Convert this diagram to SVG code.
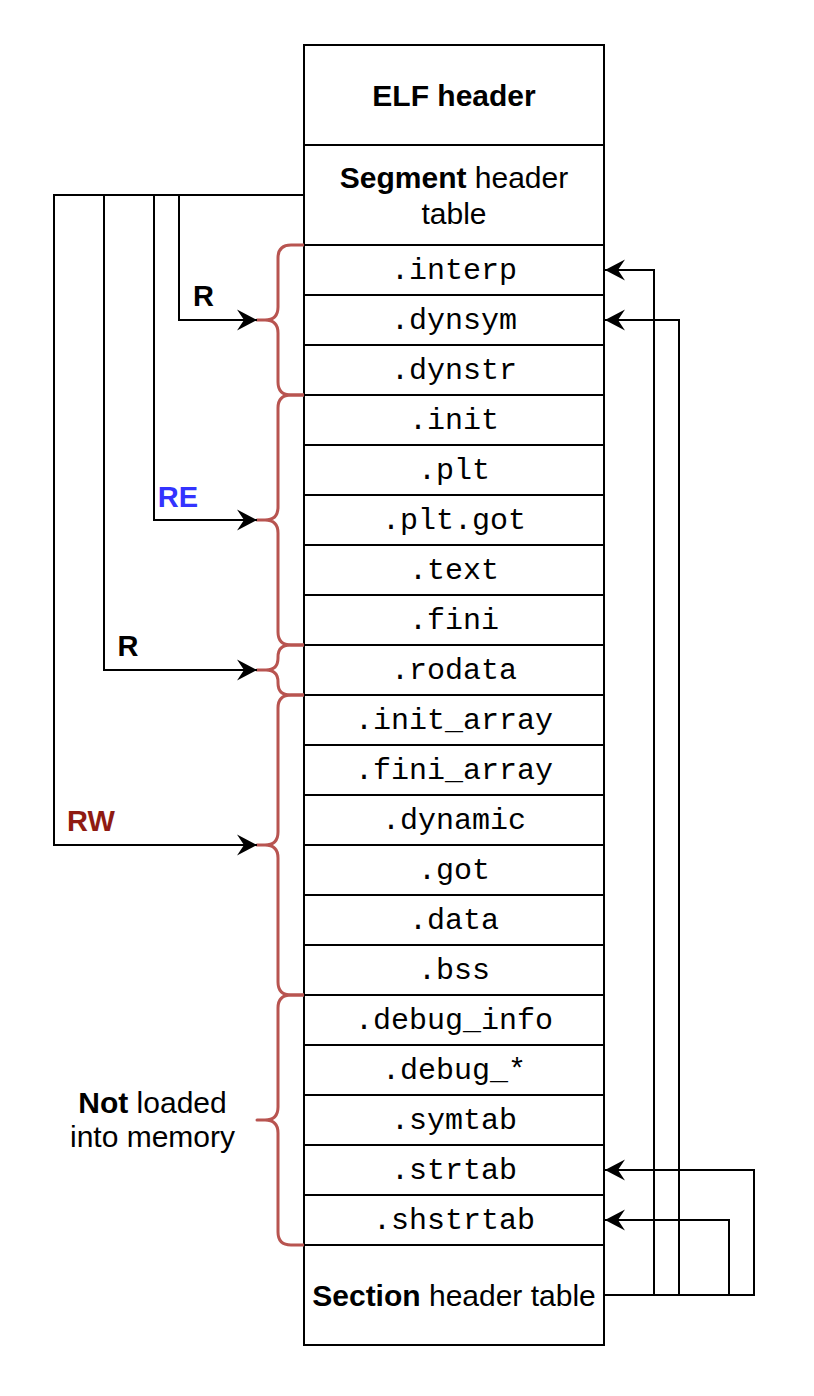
<svg xmlns="http://www.w3.org/2000/svg" width="814" height="1396" viewBox="0 0 814 1396">
<style>
.box{fill:#ffffff;stroke:#000000;stroke-width:2}
.mono{font-family:"Liberation Mono","Courier New",monospace;font-size:30px;text-anchor:middle;fill:#000000}
.sans{font-family:"Liberation Sans",Arial,Helvetica,sans-serif;font-size:30px;text-anchor:middle;fill:#000000}
.b{font-weight:bold}
.edge{fill:none;stroke:#000000;stroke-width:2}
.brace{fill:none;stroke:#b85450;stroke-width:3;stroke-linejoin:round;stroke-linecap:butt}
.lbl{font-family:"Liberation Sans",Arial,Helvetica,sans-serif;font-size:29px;font-weight:bold;text-anchor:middle}
</style>
<defs>
<marker id="arr" viewBox="-21 -11 22 22" markerWidth="22" markerHeight="22" refX="0" refY="0" orient="auto" markerUnits="userSpaceOnUse">
<path d="M0,0 L-20,-10.5 L-13,0 L-20,10.5 Z" fill="#000000"/>
</marker>
</defs>
<rect width="814" height="1396" fill="#ffffff"/>

<g id="elf-header"><rect class="box" x="304" y="45" width="300" height="100"/><text class="sans b" x="454" y="105.5">ELF header</text></g>
<g id="segment-header-table"><rect class="box" x="304" y="145" width="300" height="100"/><text class="sans" x="454" y="187.5"><tspan font-weight="bold">Segment</tspan> header</text><text class="sans" x="454" y="223.5">table</text></g>
<g id="interp"><rect class="box" x="304" y="245" width="300" height="50"/><text class="mono" x="454" y="279">.interp</text></g>
<g id="dynsym"><rect class="box" x="304" y="295" width="300" height="50"/><text class="mono" x="454" y="329">.dynsym</text></g>
<g id="dynstr"><rect class="box" x="304" y="345" width="300" height="50"/><text class="mono" x="454" y="379">.dynstr</text></g>
<g id="init"><rect class="box" x="304" y="395" width="300" height="50"/><text class="mono" x="454" y="429">.init</text></g>
<g id="plt"><rect class="box" x="304" y="445" width="300" height="50"/><text class="mono" x="454" y="479">.plt</text></g>
<g id="plt-got"><rect class="box" x="304" y="495" width="300" height="50"/><text class="mono" x="454" y="529">.plt.got</text></g>
<g id="text"><rect class="box" x="304" y="545" width="300" height="50"/><text class="mono" x="454" y="579">.text</text></g>
<g id="fini"><rect class="box" x="304" y="595" width="300" height="50"/><text class="mono" x="454" y="629">.fini</text></g>
<g id="rodata"><rect class="box" x="304" y="645" width="300" height="50"/><text class="mono" x="454" y="679">.rodata</text></g>
<g id="init-array"><rect class="box" x="304" y="695" width="300" height="50"/><text class="mono" x="454" y="729">.init_array</text></g>
<g id="fini-array"><rect class="box" x="304" y="745" width="300" height="50"/><text class="mono" x="454" y="779">.fini_array</text></g>
<g id="dynamic"><rect class="box" x="304" y="795" width="300" height="50"/><text class="mono" x="454" y="829">.dynamic</text></g>
<g id="got"><rect class="box" x="304" y="845" width="300" height="50"/><text class="mono" x="454" y="879">.got</text></g>
<g id="data"><rect class="box" x="304" y="895" width="300" height="50"/><text class="mono" x="454" y="929">.data</text></g>
<g id="bss"><rect class="box" x="304" y="945" width="300" height="50"/><text class="mono" x="454" y="979">.bss</text></g>
<g id="debug-info"><rect class="box" x="304" y="995" width="300" height="50"/><text class="mono" x="454" y="1029">.debug_info</text></g>
<g id="debug-star"><rect class="box" x="304" y="1045" width="300" height="50"/><text class="mono" x="454" y="1079">.debug_*</text></g>
<g id="symtab"><rect class="box" x="304" y="1095" width="300" height="50"/><text class="mono" x="454" y="1129">.symtab</text></g>
<g id="strtab"><rect class="box" x="304" y="1145" width="300" height="50"/><text class="mono" x="454" y="1179">.strtab</text></g>
<g id="shstrtab"><rect class="box" x="304" y="1195" width="300" height="50"/><text class="mono" x="454" y="1229">.shstrtab</text></g>
<g id="section-header-table"><rect class="box" x="304" y="1245" width="300" height="100"/><text class="sans" x="454" y="1305.5"><tspan font-weight="bold">Section</tspan> header table</text></g>

<g id="brace-r1"><path class="brace" d="M304,245 H291 Q278,245 278,258 V307 Q278,320 265,320 H257 H265 Q278,320 278,333 V382 Q278,395 291,395 H304"/></g>
<g id="brace-re"><path class="brace" d="M304,395 H291 Q278,395 278,408 V507 Q278,520 265,520 H257 H265 Q278,520 278,533 V632 Q278,645 291,645 H304"/></g>
<g id="brace-r2"><path class="brace" d="M304,645 H290 Q278,645 278,657 V658 Q278,670 266,670 H257 H266 Q278,670 278,682 V683 Q278,695 290,695 H304"/></g>
<g id="brace-rw"><path class="brace" d="M304,695 H291 Q278,695 278,708 V832 Q278,845 265,845 H257 H265 Q278,845 278,858 V982 Q278,995 291,995 H304"/></g>
<g id="brace-notloaded"><path class="brace" d="M304,995 H291 Q278,995 278,1008 V1107 Q278,1120 265,1120 H257 H265 Q278,1120 278,1133 V1232 Q278,1245 291,1245 H304"/></g>

<g id="connectors">
<path class="edge" d="M304,195 H54 V845 H257" marker-end="url(#arr)"/>
<path class="edge" d="M104,195 V670 H257" marker-end="url(#arr)"/>
<path class="edge" d="M154,195 V520 H257" marker-end="url(#arr)"/>
<path class="edge" d="M179,195 V320 H257" marker-end="url(#arr)"/>
<path class="edge" d="M604,1295 H754 V1170 H605" marker-end="url(#arr)"/>
<path class="edge" d="M604,1295 H729 V1220 H605" marker-end="url(#arr)"/>
<path class="edge" d="M604,1295 H679 V320 H605" marker-end="url(#arr)"/>
<path class="edge" d="M604,1295 H654 V270 H605" marker-end="url(#arr)"/>
</g>

<g id="labels">
<text class="lbl" x="203.5" y="306" fill="#000000">R</text>
<text class="lbl" x="178" y="507" fill="#3333ff">RE</text>
<text class="lbl" x="128" y="656" fill="#000000">R</text>
<text class="lbl" x="91" y="831" fill="#8f1b12">RW</text>
<text class="sans" x="152.5" y="1113"><tspan font-weight="bold">Not</tspan> loaded</text>
<text class="sans" x="152.5" y="1147">into memory</text>
</g>
</svg>
